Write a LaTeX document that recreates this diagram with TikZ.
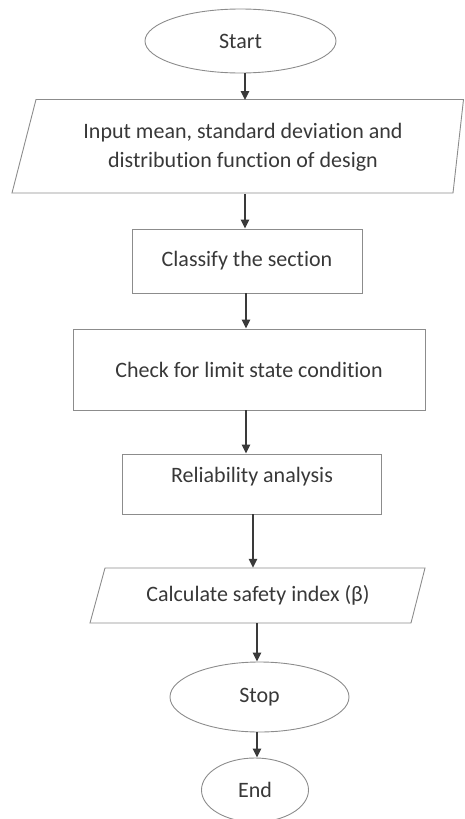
\documentclass[tikz,border=0pt]{standalone}
\usepackage{fontspec}
\setmainfont{Carlito}[Ligatures=NoCommon]
\usetikzlibrary{shapes.geometric,arrows.meta}
\definecolor{shapegray}{HTML}{8C8C8C}
\definecolor{arrowgray}{HTML}{3A3A3A}
\definecolor{textgray}{HTML}{383838}
\begin{document}
\begin{tikzpicture}[x=1pt,y=-1pt,
  every node/.style={font=\fontsize{22}{29}\selectfont, text=textgray, inner sep=0pt},
  term/.style={ellipse, draw=shapegray, line width=0.9pt},
  procbox/.style={rectangle, draw=shapegray, line width=0.9pt},
  iobox/.style={rectangle, draw=none, align=center},
  arr/.style={draw=arrowgray, line width=1.4pt, -{Triangle[width=8.5pt,length=9pt]}},
  para/.style={draw=shapegray, line width=0.9pt}]
\useasboundingbox (0,0) rectangle (464,819);
\begin{scope}
\clip (0,0) rectangle (464,819);
% terminals
\node[term, minimum width=191pt, minimum height=64pt] (start) at (240.5,41) {Start};
% input parallelogram
\draw[para] (36,99.5) -- (463.5,99.5) -- (453,193) -- (12,193) -- cycle;
\node[iobox, minimum width=420pt, minimum height=93.5pt] (in) at (243,147) {Input mean, standard deviation and\\distribution function of design};
% classify
\node[procbox, minimum width=230pt, minimum height=64pt] (cls) at (247,261) {Classify the section};
% check
\node[procbox, minimum width=352pt, minimum height=81pt] (chk) at (249,369.5) {Check for limit state condition};
% reliability
\node[procbox, minimum width=259pt, minimum height=60pt, text height=15pt, text depth=19pt] (rel) at (252,484) {Reliability analysis};
% calculate parallelogram
\draw[para] (105,568) -- (425,568) -- (411,623) -- (90,623) -- cycle;
\node[iobox, minimum width=300pt, minimum height=55pt] (calc) at (258,595.5) {Calculate safety index (β)};
% stop / end
\node[term, minimum width=179pt, minimum height=70pt] (stop) at (259.5,697) {Stop};
\node[term, minimum width=107pt, minimum height=64pt] (end) at (255,790) {End};
\end{scope}
% arrows
\draw[arr] (start.south -| 245,0) -- (in.north -| 245,0);
\draw[arr] (in.south -| 245,0) -- (cls.north -| 245,0);
\draw[arr] (cls.south -| 246,0) -- (chk.north -| 246,0);
\draw[arr] (chk.south -| 246,0) -- (rel.north -| 246,0);
\draw[arr] (rel.south -| 253,0) -- (calc.north -| 253,0);
\draw[arr] (calc.south -| 257,0) -- (stop.north -| 257,0);
\draw[arr] (stop.south -| 257,0) -- (end.north -| 257,0);
\end{tikzpicture}
\end{document}
